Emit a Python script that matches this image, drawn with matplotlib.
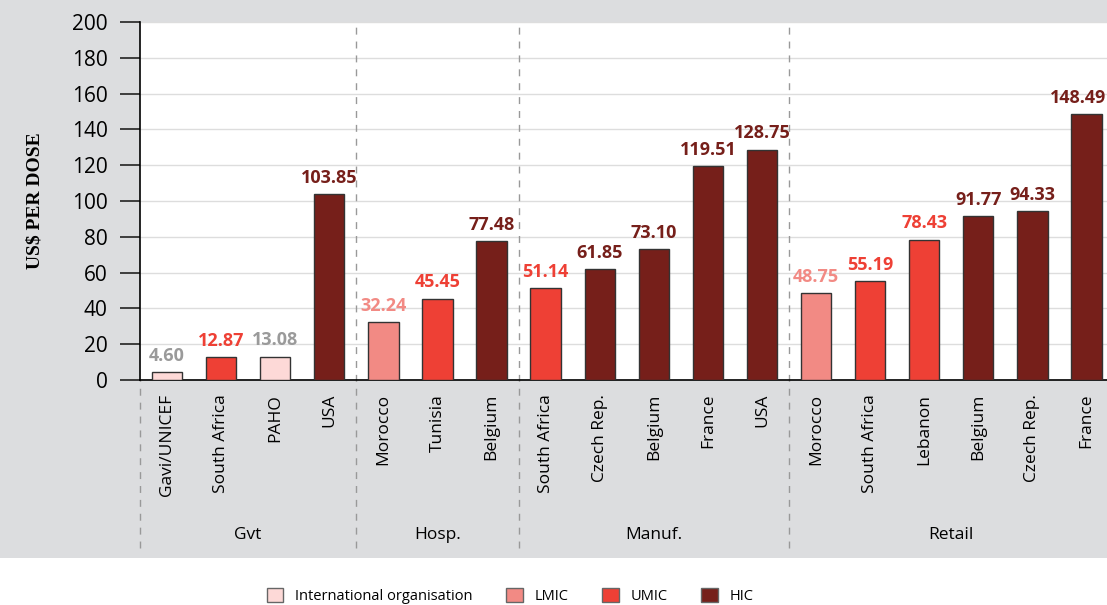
import matplotlib.pyplot as plt
from matplotlib.patches import Patch, Rectangle
from matplotlib.lines import Line2D
import matplotlib.transforms as mtransforms

plt.rcParams['font.family'] = ['Open Sans', 'DejaVu Sans']

# data
countries = ["Gavi/UNICEF", "South Africa", "PAHO", "USA",
             "Morocco", "Tunisia", "Belgium",
             "South Africa", "Czech Rep.", "Belgium", "France", "USA",
             "Morocco", "South Africa", "Lebanon", "Belgium", "Czech Rep.", "France"]
prices = [4.60, 12.87, 13.08, 103.85,
          32.24, 45.45, 77.48,
          51.14, 61.85, 73.10, 119.51, 128.75,
          48.75, 55.19, 78.43, 91.77, 94.33, 148.49]
income = ["Intl", "UMIC", "Intl", "HIC",
          "LMIC", "UMIC", "HIC",
          "UMIC", "HIC", "HIC", "HIC", "HIC",
          "LMIC", "UMIC", "UMIC", "HIC", "HIC", "HIC"]
groups = ["Gvt", "Hosp.", "Manuf.", "Retail"]
group_sizes = [4, 3, 5, 6]

legend_keys = ["Intl", "LMIC", "UMIC", "HIC"]
legend_names = ["International organisation", "LMIC", "UMIC", "HIC"]
bar_colors = {"Intl": "#FDD9D7", "LMIC": "#F28A84", "UMIC": "#EE4035", "HIC": "#761F1A"}
text_colors = {"Intl": "#9A9A9A", "LMIC": "#F28A84", "UMIC": "#EE4035", "HIC": "#761F1A"}
bg = "#DCDDDF"

fig = plt.figure(figsize=(11.07, 6.05), dpi=100, facecolor="white")
fig.patches.append(Rectangle((0, 1 - 558 / 605), 1, 558 / 605, transform=fig.transFigure,
                             facecolor=bg, edgecolor="none", zorder=-10))
ax = fig.add_axes([140 / 1107, 1 - 380 / 605, 1 - 140 / 1107, 358 / 605])

x = list(range(len(countries)))
ax.bar(x, prices, width=0.56, color=[bar_colors[k] for k in income],
       edgecolor="#333333", linewidth=1, zorder=3)
for xi, v, k in zip(x, prices, income):
    dx = -0.15 if xi == len(x) - 1 else 0
    ax.text(xi + dx, v + 4, f"{v:.2f}", ha="center", va="bottom", fontsize=13,
            fontweight="bold", color=text_colors[k], zorder=4, clip_on=False)

ax.set_xlim(-0.5, 17.38)
ax.set_ylim(0, 200)
ax.set_yticks(range(0, 201, 20))
ax.grid(axis="y", color="#DDDDDD", linewidth=1, zorder=0)
ax.set_axisbelow(True)
ax.tick_params(axis="y", length=14.4, width=1.2, pad=9, labelsize=15, color="#222222")
ax.set_xticks(x)
ax.set_xticklabels(countries, rotation=90, fontsize=12.5)
ax.tick_params(axis="x", length=0, pad=10)
for s in ["top", "right"]:
    ax.spines[s].set_visible(False)
ax.spines["left"].set_linewidth(1.2)
ax.spines["bottom"].set_linewidth(1.2)
ax.set_ylabel("US$ PER DOSE", family="Liberation Serif", fontweight="bold", fontsize=14)
ax.yaxis.set_label_coords(-0.10, 0.5)

# group separators and labels
trans = mtransforms.blended_transform_factory(ax.transData, ax.transAxes)
bottom_frac = (380 - 548) / 358
start = 0
edges = [-0.5]
for name, n in zip(groups, group_sizes):
    ax.text(start + (n - 1) / 2, (380 - 535) / 358, name, transform=trans,
            ha="center", va="center", fontsize=12.5)
    start += n
    edges.append(start - 0.5)
for i, e in enumerate(edges[:-1]):
    top = 0 if i == 0 else 1
    ax.add_line(Line2D([e, e], [bottom_frac, top], transform=trans, color="#999999",
                       linewidth=1, linestyle=(0, (5, 5)), clip_on=False, zorder=2))

handles = [Patch(facecolor=bar_colors[k], edgecolor="#666666", linewidth=1) for k in legend_keys]
fig.legend(handles, legend_names, loc="center", bbox_to_anchor=(510 / 1107, 1 - 596 / 605),
           ncol=4, frameon=False, fontsize=10.5, handlelength=1.15, handleheight=1.15,
           columnspacing=2.3, handletextpad=0.8)

fig.savefig("out.png", dpi=100, facecolor=fig.get_facecolor())
